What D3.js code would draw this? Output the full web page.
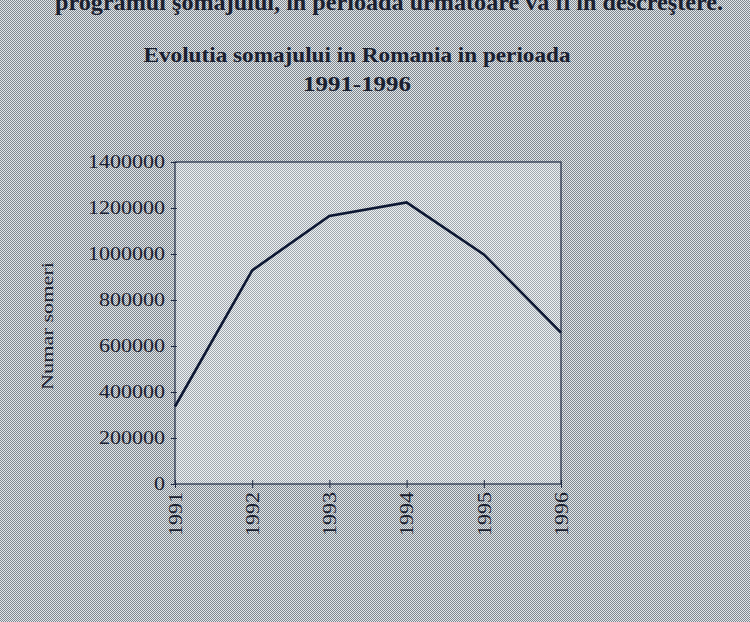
<!DOCTYPE html>
<html>
<head>
<meta charset="utf-8">
<script src="https://d3js.org/d3.v7.min.js"></script>
<style>
  body { margin: 0; background: #b1b7bc; }
  svg { display: block; }
  text { font-family: "Liberation Serif", "Times New Roman", serif; fill: #1a2030; }
</style>
</head>
<body>
<svg id="chart" width="750" height="622"></svg>
<script>
// Romania unemployment, 1991-1996
var years = ["1991", "1992", "1993", "1994", "1995", "1996"];
var someri = [337000, 929000, 1165000, 1224000, 998000, 658000];
var yTicks = [0, 200000, 400000, 600000, 800000, 1000000, 1200000, 1400000];

var svg = d3.select("#chart"),
    width = +svg.attr("width"),
    height = +svg.attr("height");

var margin = {top: 162, right: 189, bottom: 138, left: 175};
var charW = 11; // scanned digits come out wide

// dithered scan look
var defs = svg.append("defs");
function dither(id, light, dark) {
    var p = defs.append("pattern")
        .attr("id", id)
        .attr("width", 2).attr("height", 2)
        .attr("patternUnits", "userSpaceOnUse");
    p.append("rect").attr("width", 2).attr("height", 2).attr("fill", light);
    p.append("rect").attr("width", 1).attr("height", 1).attr("fill", dark);
    p.append("rect").attr("x", 1).attr("y", 1).attr("width", 1).attr("height", 1).attr("fill", dark);
}
dither("outer", "#e2e6ea", "#80888f");
dither("inner", "#eef1f3", "#a0a7ae");

svg.append("rect").attr("width", width).attr("height", height).attr("fill", "url(#outer)");

// cut-off line of text from the page above
svg.append("text")
    .attr("x", 55).attr("y", 10)
    .attr("font-size", 24).attr("font-weight", "bold")
    .attr("textLength", 668).attr("lengthAdjust", "spacingAndGlyphs")
    .text("programul şomajului, în perioada următoare va fi în descreştere.");

var x = d3.scalePoint()
    .domain(years)
    .range([margin.left, width - margin.right]);

var y = d3.scaleLinear()
    .domain([0, 1400000])
    .range([height - margin.bottom, margin.top]);

svg.append("rect")
    .attr("x", margin.left).attr("y", margin.top)
    .attr("width", width - margin.right - margin.left)
    .attr("height", height - margin.bottom - margin.top)
    .attr("fill", "url(#inner)")
    .attr("stroke", "#1f2a44")
    .attr("stroke-width", 1.2);

// title
var title = svg.append("text")
    .attr("text-anchor", "middle")
    .attr("font-size", 21).attr("font-weight", "bold")
    .attr("lengthAdjust", "spacingAndGlyphs");
title.append("tspan").attr("x", 357).attr("y", 62)
    .attr("textLength", 427).attr("lengthAdjust", "spacingAndGlyphs")
    .text("Evolutia somajului in Romania in perioada");
title.append("tspan").attr("x", 357).attr("y", 91)
    .attr("textLength", 108).attr("lengthAdjust", "spacingAndGlyphs")
    .text("1991-1996");

function stretch(sel) {
    sel.attr("font-size", 18).attr("font-family", "Liberation Serif").attr("fill", "#1a2030")
        .attr("lengthAdjust", "spacingAndGlyphs")
        .attr("textLength", function() { return this.textContent.length * charW; });
}

// y axis
var yAxis = svg.append("g")
    .attr("transform", "translate(" + margin.left + ",0)")
    .call(d3.axisLeft(y).tickValues(yTicks).tickSize(5).tickFormat(d3.format("d")).tickPadding(5));
yAxis.select(".domain").remove();
yAxis.selectAll("line").attr("stroke", "#1f2a44").attr("x2", 2).attr("x1", -4);
yAxis.selectAll("text").call(stretch);

// x axis
var xAxis = svg.append("g")
    .attr("transform", "translate(0," + (height - margin.bottom) + ")")
    .call(d3.axisBottom(x).tickSize(4));
xAxis.select(".domain").remove();
xAxis.selectAll("line").attr("stroke", "#1f2a44").attr("y1", -4);
xAxis.selectAll("text")
    .call(stretch)
    .attr("transform", "rotate(-90)")
    .attr("text-anchor", "end")
    .attr("x", -8).attr("y", 0).attr("dy", "0.35em");

// y label
svg.append("text")
    .attr("transform", "translate(53,326) rotate(-90)")
    .attr("text-anchor", "middle")
    .attr("font-size", 17)
    .attr("textLength", 128).attr("lengthAdjust", "spacingAndGlyphs")
    .text("Numar someri");

// line
var line = d3.line()
    .x(function(d, i) { return x(years[i]); })
    .y(function(d) { return y(d); });

svg.append("path")
    .datum(someri)
    .attr("d", line)
    .attr("fill", "none")
    .attr("stroke", "#0d1733")
    .attr("stroke-width", 2.6)
    .attr("stroke-linejoin", "miter");
</script>
</body>
</html>
